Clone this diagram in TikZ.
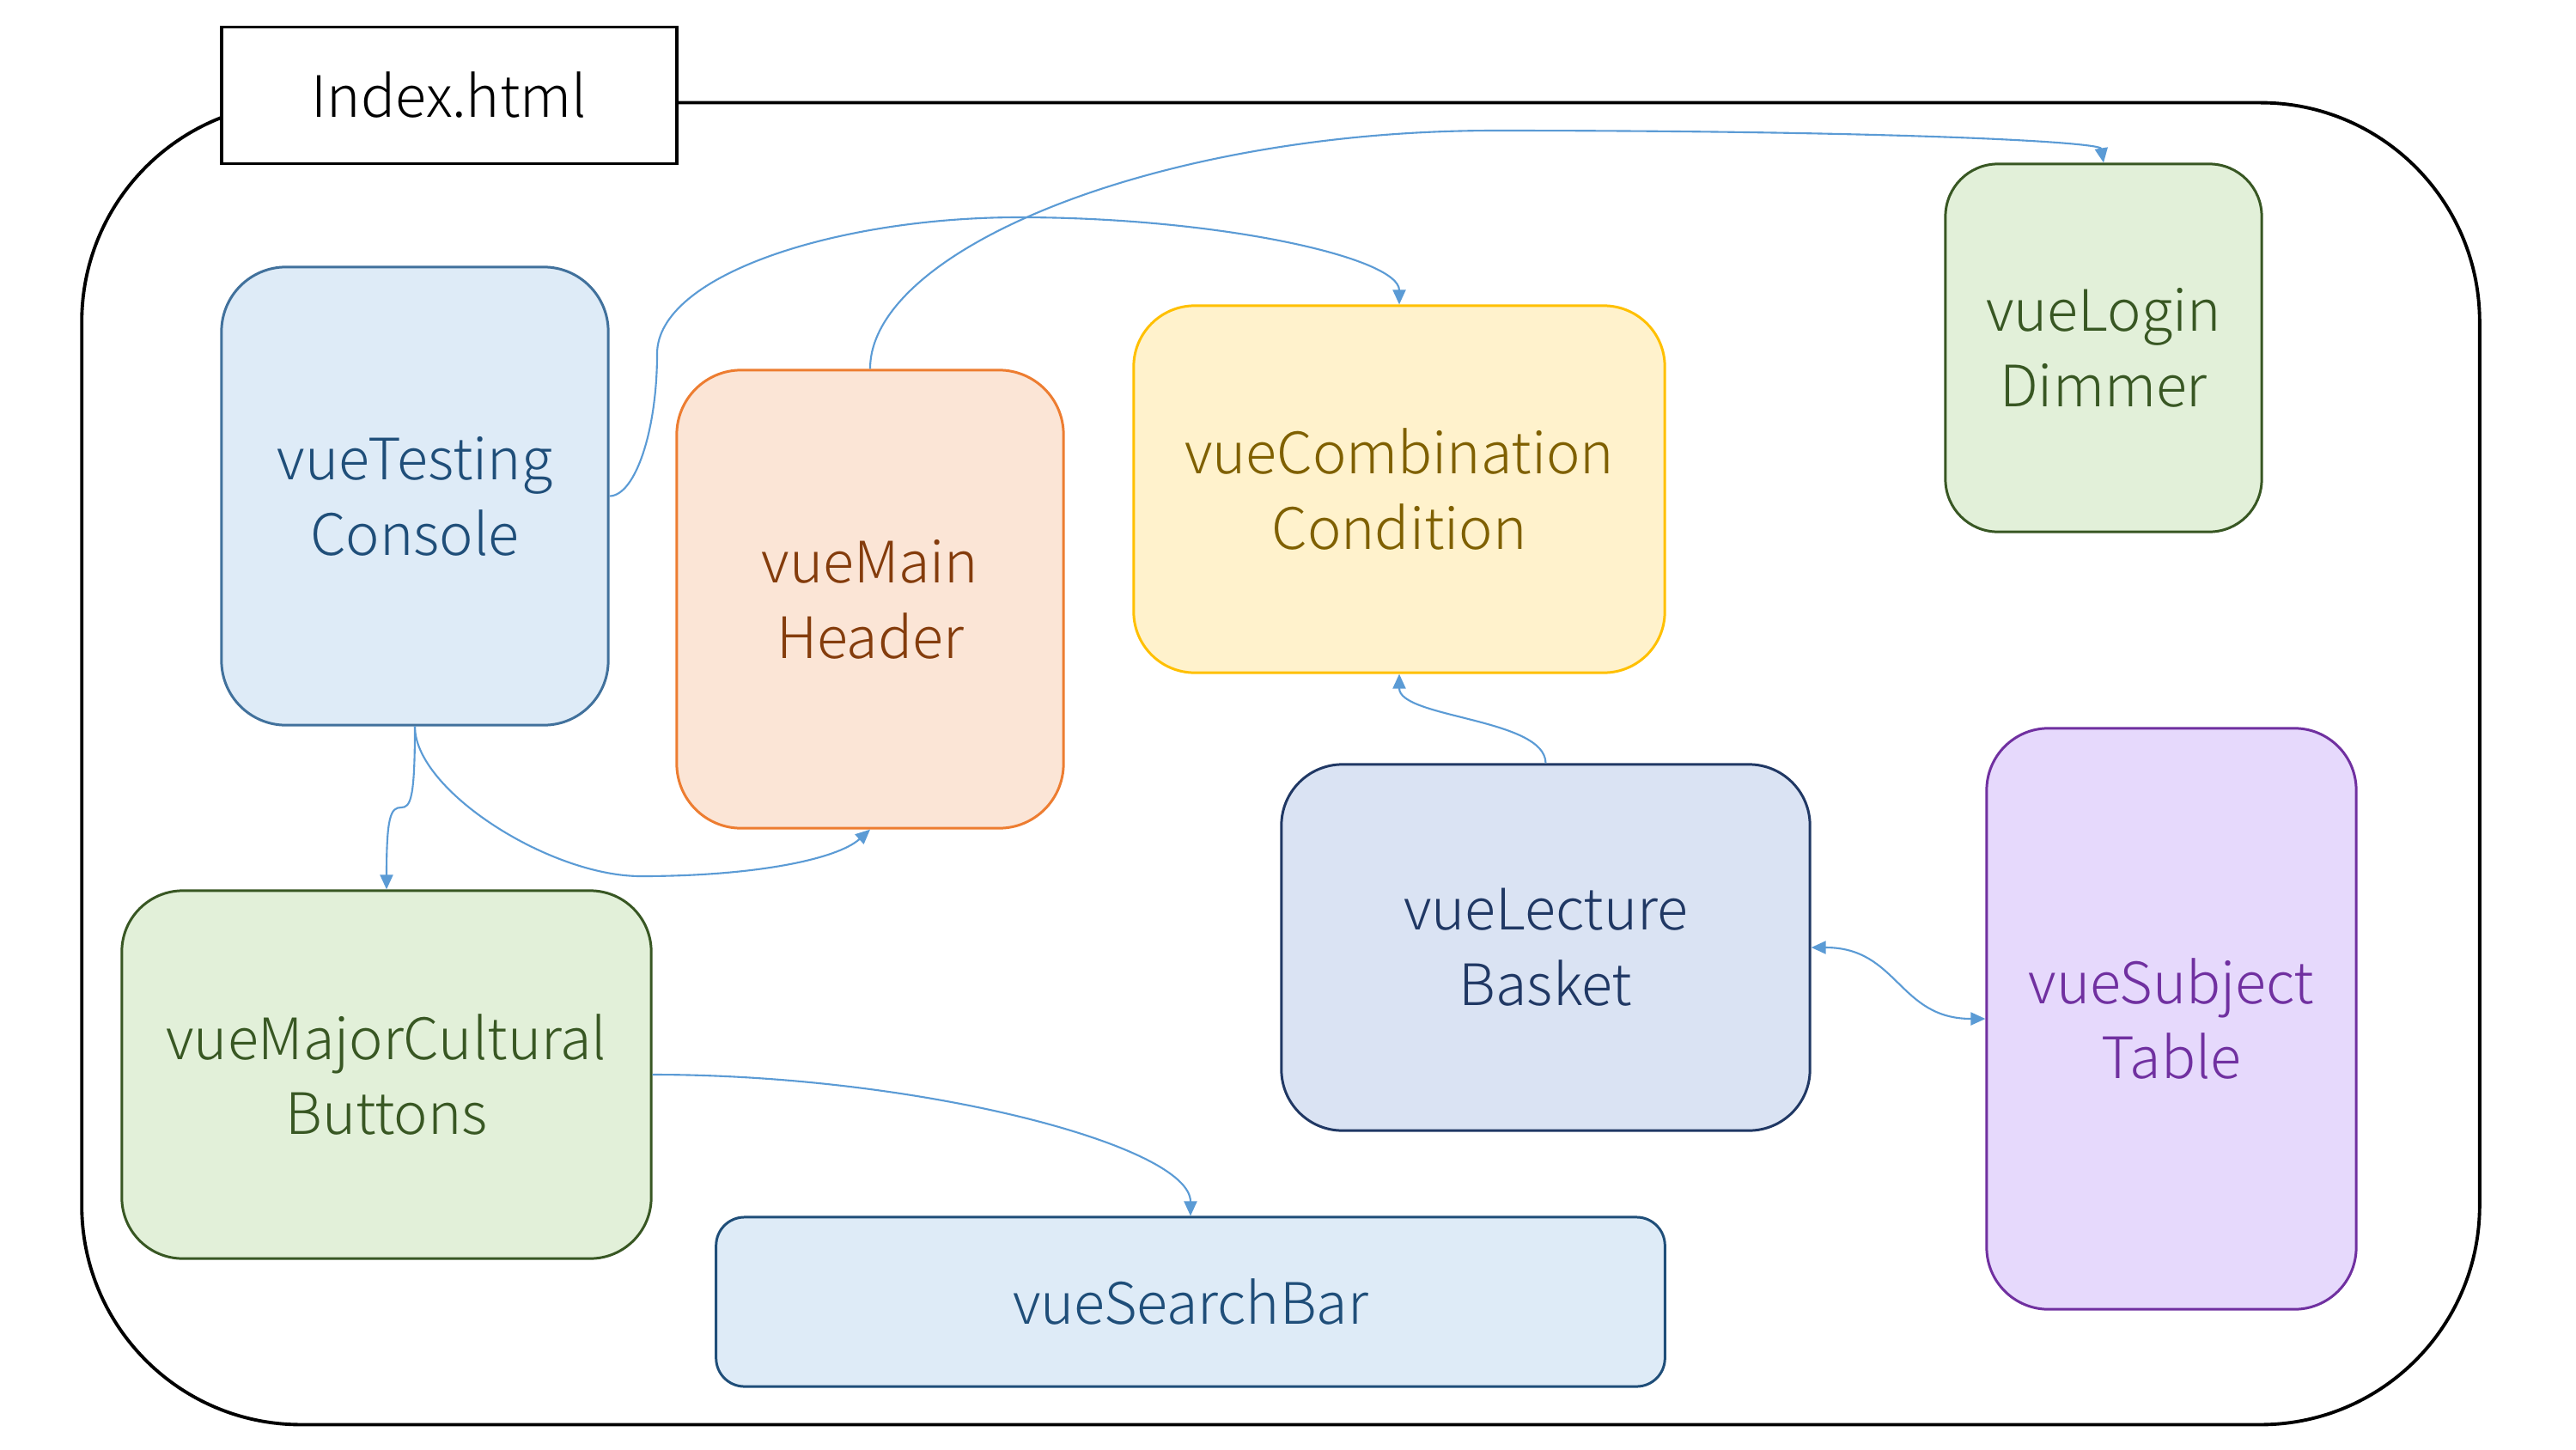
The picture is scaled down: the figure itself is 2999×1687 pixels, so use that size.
\documentclass[tikz,border=0pt]{standalone}
\usepackage{fontspec}
\IfFontExistsTF{Noto Sans CJK KR Light}{\setmainfont{Noto Sans CJK KR Light}}{\IfFontExistsTF{Noto Sans CJK KR DemiLight}{\setmainfont{Noto Sans CJK KR DemiLight}}{\setmainfont{Noto Sans CJK KR}}}
\usetikzlibrary{arrows.meta}
\definecolor{connblue}{HTML}{5B9BD5}
\definecolor{tcFill}{HTML}{DEEBF7}\definecolor{tcDraw}{HTML}{41719C}\definecolor{tcText}{HTML}{1F4E79}
\definecolor{mhFill}{HTML}{FBE5D6}\definecolor{mhDraw}{HTML}{ED7D31}\definecolor{mhText}{HTML}{843C0C}
\definecolor{ccFill}{HTML}{FFF2CC}\definecolor{ccDraw}{HTML}{FFC000}\definecolor{ccText}{HTML}{7F6000}
\definecolor{grFill}{HTML}{E2F0D9}\definecolor{grDraw}{HTML}{385723}\definecolor{grText}{HTML}{385723}
\definecolor{sbDraw}{HTML}{1F4E79}
\definecolor{lbFill}{HTML}{DAE3F3}\definecolor{lbDraw}{HTML}{203864}\definecolor{lbText}{HTML}{203864}
\definecolor{stFill}{HTML}{E6D9FC}\definecolor{stDraw}{HTML}{7030A0}\definecolor{stText}{HTML}{7030A0}
\begin{document}
\begin{tikzpicture}[x=0.01cm,y=-0.01cm,
  box/.style={draw, line width=0.85pt, align=center, inner sep=0pt,
    font=\fontsize{18.9}{25}\selectfont},
  frame/.style={draw=black, line width=1.1pt, inner sep=0pt},
  conn/.style={draw=connblue, line width=0.6pt, -{Triangle[length=0.17cm,width=0.15cm]}},
  dconn/.style={draw=connblue, line width=0.6pt, {Triangle[length=0.17cm,width=0.15cm]}-{Triangle[length=0.17cm,width=0.15cm]}}
]
\useasboundingbox (0,0) rectangle (2999,1687);
\fill[white] (0,0) rectangle (2999,1687);

% outer container
\node[frame, minimum width=27.9cm, minimum height=15.38cm, rounded corners=2.55cm] (outer) at (1491,889) {};
% Index.html label box
\node[frame, fill=white, minimum width=5.3cm, minimum height=1.59cm, font=\fontsize{18.9}{25}\selectfont] (idx) at (523,111) {Index.html};

% component boxes
\node[box, fill=tcFill, draw=tcDraw, text=tcText, minimum width=4.5cm, minimum height=5.33cm, rounded corners=0.75cm] (tc) at (483,577.5) {vueTesting\\Console};
\node[box, fill=mhFill, draw=mhDraw, text=mhText, minimum width=4.5cm, minimum height=5.33cm, rounded corners=0.75cm] (mh) at (1013,697.5) {vueMain\\Header};
\node[box, fill=ccFill, draw=ccDraw, text=ccText, minimum width=6.18cm, minimum height=4.27cm, rounded corners=0.71cm] (cc) at (1629,569.5) {vueCombination\\Condition};
\node[box, fill=grFill, draw=grDraw, text=grText, minimum width=3.68cm, minimum height=4.28cm, rounded corners=0.61cm] (ld) at (2449,405) {vueLogin\\Dimmer};
\node[box, fill=grFill, draw=grDraw, text=grText, minimum width=6.16cm, minimum height=4.28cm, rounded corners=0.71cm] (mc) at (450,1251) {vueMajorCultural\\Buttons};
\node[box, fill=tcFill, draw=sbDraw, text=tcText, minimum width=11.04cm, minimum height=1.97cm, rounded corners=0.33cm] (sb) at (1386,1515.5) {vueSearchBar};
\node[box, fill=lbFill, draw=lbDraw, text=lbText, minimum width=6.15cm, minimum height=4.26cm, rounded corners=0.71cm] (lb) at (1799.5,1103) {vueLecture\\Basket};
\node[box, fill=stFill, draw=stDraw, text=stText, minimum width=4.3cm, minimum height=6.76cm, rounded corners=0.72cm] (st) at (2528,1186) {vueSubject\\Table};

% connectors
\draw[conn] (tc.east) .. controls (740,577) and (765,500) .. (765,412)
  .. controls (765,320) and (975,253) .. (1186,253)
  .. controls (1420,253) and (1629,300) .. (cc.north);
\draw[conn] (mh.north) .. controls (1013,290) and (1350,152) .. (1740,152)
  .. controls (2200,152) and (2445,165) .. (ld.north);
\draw[conn] (tc.south) .. controls (483,930) and (478,940) .. (467,940)
  .. controls (455,940) and (450,950) .. (mc.north);
\draw[conn] (tc.south) .. controls (483,920) and (640,1020) .. (746,1020)
  .. controls (880,1020) and (975,1000) .. (mh.south);
\draw[conn] (mc.east) .. controls (1072,1251) and (1386,1334) .. (sb.north);
\draw[conn] (lb.north) .. controls (1799,836) and (1629,836) .. (cc.south);
\draw[dconn] (lb.east) .. controls (2210,1103) and (2210,1186) .. (st.west);
\end{tikzpicture}
\end{document}
